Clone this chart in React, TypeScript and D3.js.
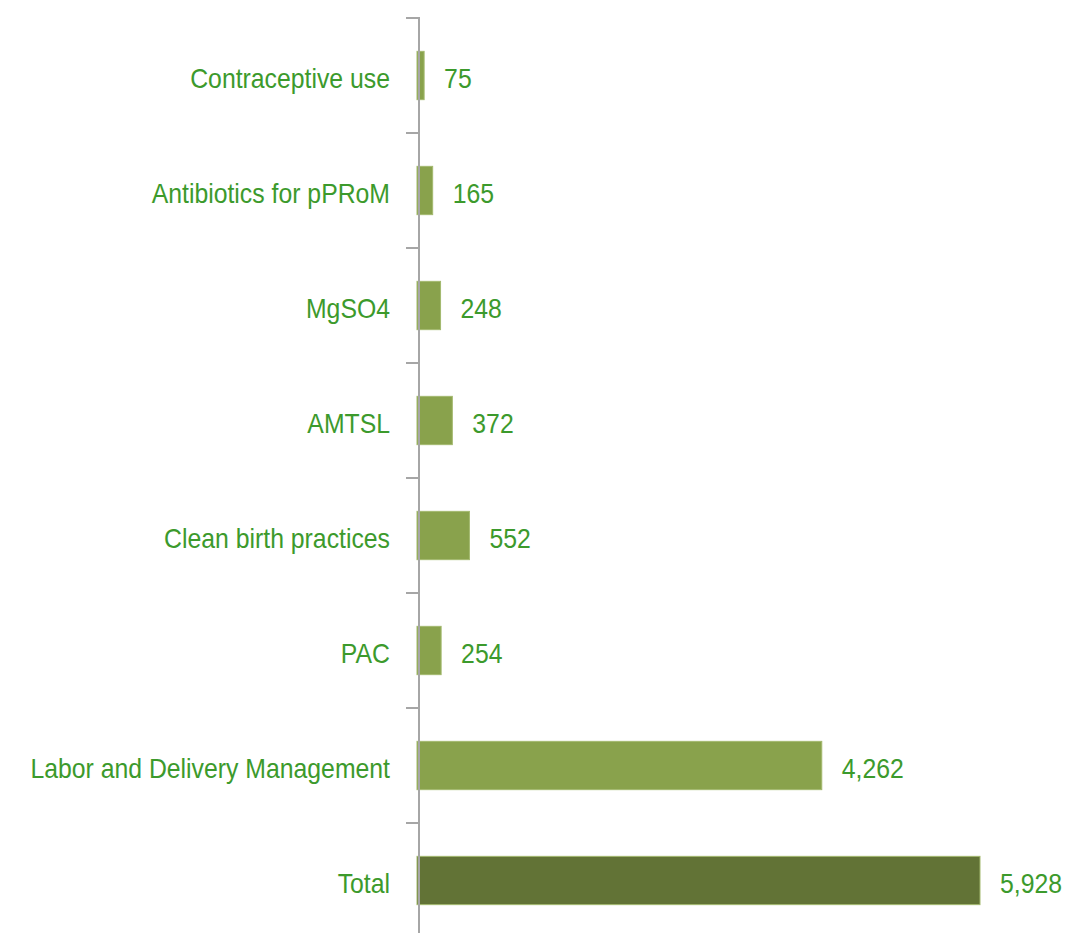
import React from "react";
import * as d3 from "d3";

const categories = [
  "Contraceptive use",
  "Antibiotics for pPRoM",
  "MgSO4",
  "AMTSL",
  "Clean birth practices",
  "PAC",
  "Labor and Delivery Management",
  "Total",
];
const values = [75, 165, 248, 372, 552, 254, 4262, 5928];
const isTotal = [false, false, false, false, false, false, false, true];

const W = 1065;
const H = 933;
const TEXT = "#3c9a2c";
const BAR = "#89a24c";
const BAR_STROKE = "#a3b96e";
const TOTAL = "#627336";
const AXIS = "#a6a6a6";
const FS = 24.8;
const SY = 1.14;

export default function App() {
  const y = d3.scaleBand<string>().domain(categories).range([18, 938]).paddingInner(0.58).paddingOuter(0.29);
  const x = d3.scaleLinear().domain([0, 5928]).range([417, 980]);
  const axisX = 419;
  const step = y.step();
  const tickYs = d3.range(categories.length).map((i) => 18 + i * step);
  const fmt = d3.format(",");

  return (
    <svg width={W} height={H} style={{ position: "absolute", left: 0, top: 0, background: "#fff" }}>
      {categories.map((c, i) => {
        const by = y(c)!;
        const bh = y.bandwidth();
        const cy = by + bh / 2 + 2;
        return (
          <g key={c}>
            <rect
              x={x(0)}
              y={by}
              width={x(values[i]) - x(0)}
              height={bh}
              fill={isTotal[i] ? TOTAL : BAR}
              stroke={BAR_STROKE}
              strokeWidth={1}
            />
            <text
              transform={`translate(${390},${cy}) scale(1,${SY})`}
              dy="0.36em"
              textAnchor="end"
              fontFamily="Liberation Sans, Arial, sans-serif"
              fontSize={FS}
              fill={TEXT}
            >
              {c}
            </text>
            <text
              transform={`translate(${x(values[i]) + 20},${cy}) scale(1,${SY})`}
              dy="0.36em"
              textAnchor="start"
              fontFamily="Liberation Sans, Arial, sans-serif"
              fontSize={FS}
              fill={TEXT}
            >
              {fmt(values[i])}
            </text>
          </g>
        );
      })}
      <line x1={axisX} x2={axisX} y1={17} y2={H} stroke={AXIS} strokeWidth={2} />
      {tickYs.map((ty, i) => (
        <line key={i} x1={406} x2={axisX} y1={ty} y2={ty} stroke={AXIS} strokeWidth={2} />
      ))}
    </svg>
  );
}
